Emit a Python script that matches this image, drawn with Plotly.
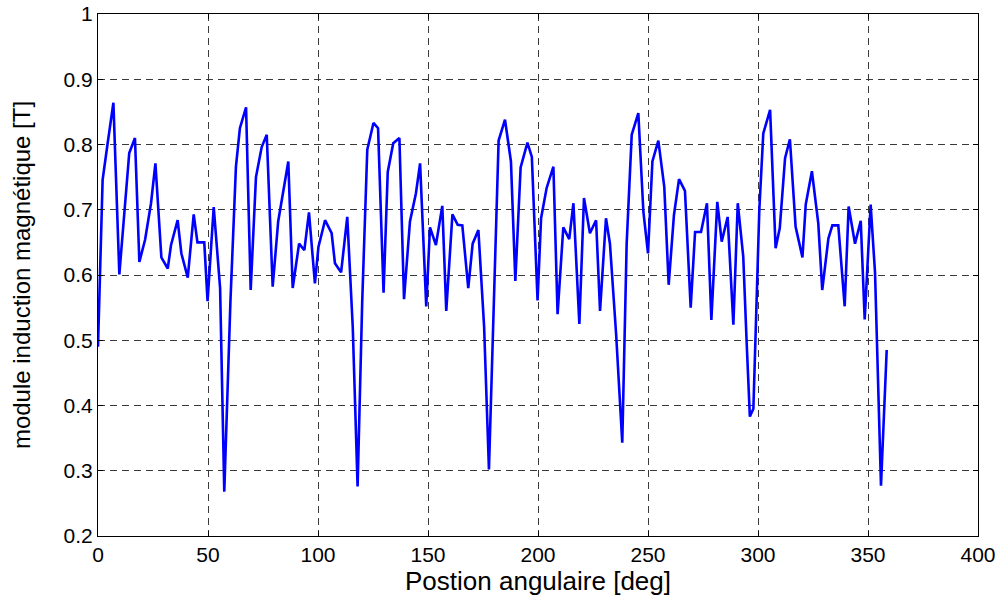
import plotly.graph_objects as go

angle_deg = [0, 2.1, 4.3, 7.0, 9.7, 14.2, 16.8, 18.8, 21.4, 24.1, 26.1, 28.8, 31.7, 33.2, 36.2, 37.9,
             40.8, 43.5, 45.2, 48.3, 49.8, 52.6, 55.5, 57.4, 60.2, 62.7, 64.5, 67.3, 69.4, 71.8, 74.4,
             76.7, 79.4, 81.9, 86.5, 88.5, 91.4, 93.8, 95.9, 98.6, 100.2, 103.2, 106.2, 107.7, 110.5,
             113.3, 115.8, 118.0, 120.1, 122.4, 125.2, 127.3, 129.8, 131.7, 134.2, 137.0, 139.1,
             141.8, 144.5, 146.4, 149.2, 150.9, 153.6, 156.5, 158.3, 161.1, 163.5, 165.6, 168.3,
             170.3, 172.9, 175.5, 177.7, 180.0, 182.1, 185.0, 187.7, 189.7, 192.1, 195.2, 197.2,
             199.8, 201.4, 203.9, 207.0, 208.9, 211.5, 214.2, 216.1, 218.8, 220.9, 223.6, 226.4,
             228.2, 230.9, 232.7, 235.5, 238.3, 240.3, 242.6, 245.6, 247.9, 250.0, 252.0, 254.7,
             257.4, 259.4, 261.8, 264.1, 266.8, 269.4, 271.4, 274.1, 276.8, 278.8, 281.5, 283.5,
             286.2, 288.8, 290.8, 293.3, 294.8, 296.3, 297.9, 300.6, 302.4, 305.5, 308.0, 309.9,
             312.3, 314.5, 317.1, 320.2, 321.7, 324.5, 327.4, 329.2, 332.0, 333.8, 336.5, 339.4,
             341.2, 344.1, 346.7, 348.5, 351.2, 353.2, 355.9, 358.5]

induction_T = [0.49, 0.746, 0.80, 0.864, 0.601, 0.787, 0.810, 0.620, 0.654, 0.710, 0.771, 0.627,
               0.610, 0.646, 0.684, 0.633, 0.596, 0.693, 0.650, 0.650, 0.560, 0.704, 0.580, 0.268,
               0.56, 0.766, 0.825, 0.857, 0.577, 0.750, 0.796, 0.815, 0.582, 0.682, 0.774, 0.580,
               0.648, 0.638, 0.696, 0.587, 0.643, 0.684, 0.664, 0.618, 0.604, 0.689, 0.520, 0.276,
               0.560, 0.792, 0.833, 0.825, 0.573, 0.758, 0.802, 0.810, 0.563, 0.682, 0.725, 0.771,
               0.552, 0.673, 0.646, 0.706, 0.545, 0.693, 0.677, 0.676, 0.580, 0.648, 0.669, 0.521,
               0.302, 0.55, 0.806, 0.838, 0.774, 0.591, 0.765, 0.803, 0.781, 0.561, 0.687, 0.733,
               0.766, 0.540, 0.673, 0.655, 0.710, 0.525, 0.718, 0.664, 0.684, 0.545, 0.687, 0.648,
               0.510, 0.343, 0.648, 0.815, 0.848, 0.697, 0.633, 0.774, 0.806, 0.735, 0.585, 0.692,
               0.747, 0.729, 0.550, 0.666, 0.666, 0.710, 0.531, 0.712, 0.651, 0.689, 0.524, 0.710,
               0.628, 0.50, 0.383, 0.395, 0.700, 0.817, 0.853, 0.641, 0.672, 0.779, 0.808, 0.674,
               0.627, 0.708, 0.759, 0.679, 0.577, 0.656, 0.676, 0.676, 0.552, 0.705, 0.648, 0.683,
               0.532, 0.708, 0.603, 0.277, 0.485]

x_ticks = [0, 50, 100, 150, 200, 250, 300, 350, 400]
y_ticks = [0.2, 0.3, 0.4, 0.5, 0.6, 0.7, 0.8, 0.9, 1]
y_tick_text = ["0.2", "0.3", "0.4", "0.5", "0.6", "0.7", "0.8", "0.9", "1"]

fig = go.Figure()
fig.add_trace(go.Scatter(x=angle_deg, y=induction_T, mode="lines",
                         line=dict(color="rgb(0,0,255)", width=2.6), showlegend=False))

font_family = "Liberation Sans, Arial, sans-serif"
axis_common = dict(showline=True, linecolor="black", linewidth=1, mirror="ticks",
                   ticks="inside", ticklen=5, tickcolor="black", automargin=False,
                   ticklabeloverflow="allow",
                   showgrid=True, gridcolor="#3a3a3a", gridwidth=1, griddash="7px,5px",
                   zeroline=False, tickfont=dict(family=font_family, size=21, color="black"))

fig.update_xaxes(range=[0, 400], tickvals=x_ticks, **axis_common,
                 title=dict(text="Postion angulaire [deg]", standoff=2,
                            font=dict(family=font_family, size=26, color="black")))
fig.update_yaxes(range=[0.2, 1], tickvals=y_ticks, ticktext=y_tick_text, **axis_common,
                 title=dict(text="module induction magnétique [T]", standoff=26,
                            font=dict(family=font_family, size=24, color="black")))

fig.update_layout(width=1000, height=597, margin=dict(l=98, r=22, t=14, b=61),
                  plot_bgcolor="white", paper_bgcolor="white", hovermode=False)

fig.write_html("out.html", config={"displayModeBar": False, "staticPlot": True},
               post_script="document.body.style.margin='0px';document.body.style.overflow='hidden';")
